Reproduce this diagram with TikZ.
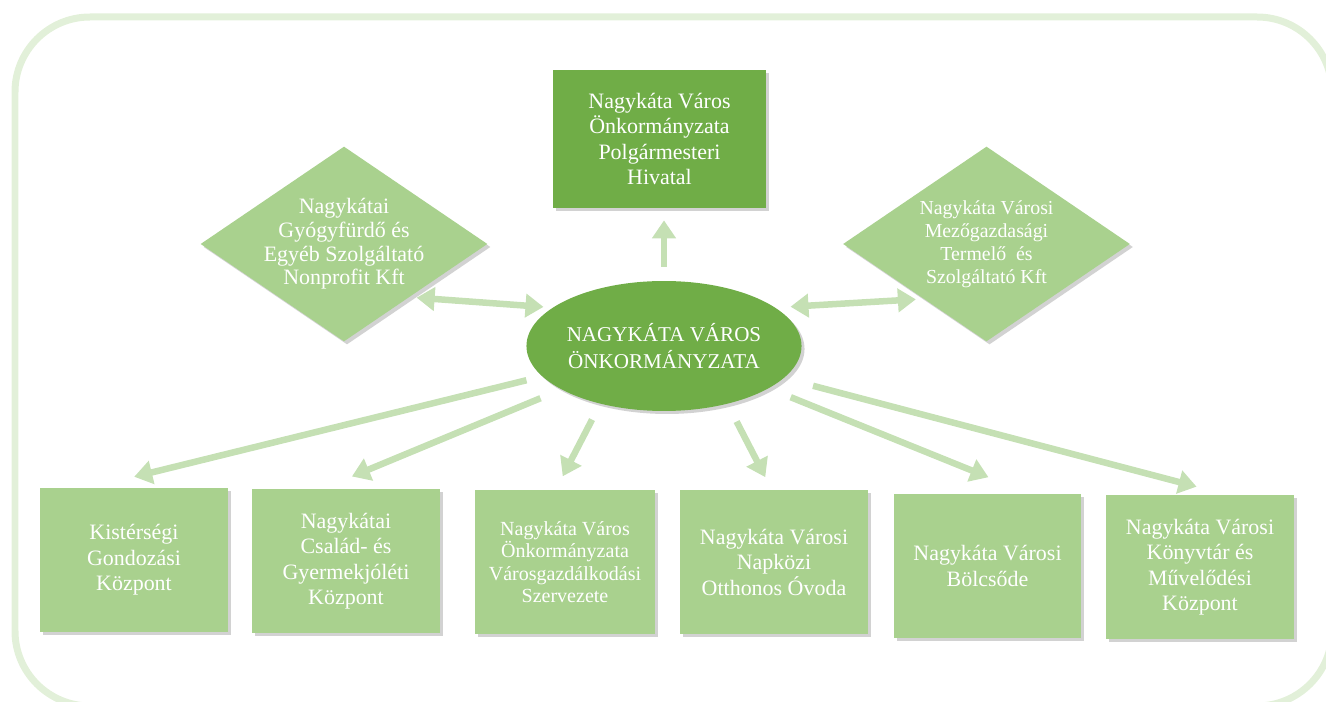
\documentclass[tikz,border=0pt]{standalone}
\usepackage{fontspec}
\setmainfont{Liberation Serif}
\usepackage{tikz}
\usetikzlibrary{arrows.meta,shapes.geometric,shadows}
\definecolor{darkleaf}{HTML}{70AD47}
\definecolor{leaf}{HTML}{A9D18E}
\definecolor{paleleaf}{HTML}{C5E0B4}
\definecolor{mist}{HTML}{E2F0D9}

\begin{document}
\begin{tikzpicture}[x=0.02cm,y=-0.02cm,
  castshadow/.style={drop shadow={shadow xshift=0.06cm,shadow yshift=-0.06cm,opacity=0.25,fill=black!70}},
  mainbox/.style={castshadow,fill=darkleaf,text=white,minimum width=4.26cm,minimum height=2.76cm,align=center,font=\fontsize{12.5}{14.5}\selectfont},
  unitbox/.style={castshadow,fill=leaf,text=white,minimum width=3.76cm,minimum height=2.9cm,align=center,font=\fontsize{12.5}{14.5}\selectfont},
  firm/.style={castshadow,diamond,fill=leaf,inner sep=0pt,minimum width=5.74cm,minimum height=3.9cm},
  firmtext/.style={text=white,align=center,font=\fontsize{12.5}{13.4}\selectfont},
  centre/.style={castshadow,ellipse,fill=darkleaf,text=white,inner sep=0pt,minimum width=5.42cm,minimum height=2.6cm,align=center,font=\fontsize{12}{15}\selectfont},
  link/.style={draw=paleleaf,line width=0.13cm,-{Triangle[length=0.36cm,width=0.46cm]}},
  twoway/.style={{Triangle[length=0.36cm,width=0.46cm]}-{Triangle[length=0.36cm,width=0.46cm]}}
]
\useasboundingbox (0,0) rectangle (1326,702);
\begin{scope}
\clip (0,0) rectangle (1326,702);
\draw[mist,line width=0.14cm,rounded corners=1.5cm] (15,17) rectangle (1332,706);
\end{scope}

% upper row
\node[mainbox] (polg) at (659.5,139) {Nagykáta Város\\Önkormányzata\\Polgármesteri\\Hivatal};
\node[firm,label={[firmtext]center:Nagykátai\\Gyógyfürdő és\\Egyéb Szolgáltató\\Nonprofit Kft}] (gyogy) at (344,244) {};
\node[firm,label={[firmtext,font=\fontsize{11.3}{13}\selectfont]center:Nagykáta Városi\\Mezőgazdasági\\Termelő~ és\\Szolgáltató Kft}] (mezo) at (986.5,244) {};
\node[centre] (hub) at (664,346) {NAGYKÁTA VÁROS\\ÖNKORMÁNYZATA};

% institutions
\node[unitbox] (kist) at (134,560) {Kistérségi\\Gondozási\\Központ};
\node[unitbox] (csal) at (346,561) {Nagykátai\\Család- és\\Gyermekjóléti\\Központ};
\node[unitbox,minimum width=3.6cm,font=\fontsize{11.4}{12.8}\selectfont] (varos) at (565,562) {Nagykáta Város\\Önkormányzata\\Városgazdálkodási\\Szervezete};
\node[unitbox] (ovoda) at (774,562) {Nagykáta Városi\\Napközi\\Otthonos Óvoda};
\node[unitbox] (bolcs) at (987.5,566) {Nagykáta Városi\\Bölcsőde};
\node[unitbox] (konyv) at (1200,567) {Nagykáta Városi\\Könyvtár és\\Művelődési\\Központ};

\draw[link,shorten <=0.28cm,shorten >=0.24cm] (hub.north) -- (hub.north |- polg.south);
\draw[link,twoway,shorten <=0.14cm,shorten >=0.18cm] (gyogy.-39) -- (hub.161);
\draw[link,twoway,shorten <=0.3cm,shorten >=0.15cm] (hub.19) -- (mezo.221);
\draw[link,shorten <=0.32cm,shorten >=0.87cm] (hub.194) -- (kist.120);
\draw[link,shorten <=0.45cm,shorten >=0.61cm] (hub.203) -- (csal.107);
\draw[link,shorten <=3.13cm,shorten >=0.29cm] (hub.north) -- (varos.97);
\draw[link,shorten <=3.17cm,shorten >=0.27cm] (hub.north) -- (ovoda.92);
\draw[link,shorten <=0.47cm,shorten >=0.85cm] (hub.-22) -- (bolcs.61);
\draw[link,shorten <=0.6cm,shorten >=0.59cm] (hub.-15) -- (konyv.71);
\end{tikzpicture}
\end{document}
